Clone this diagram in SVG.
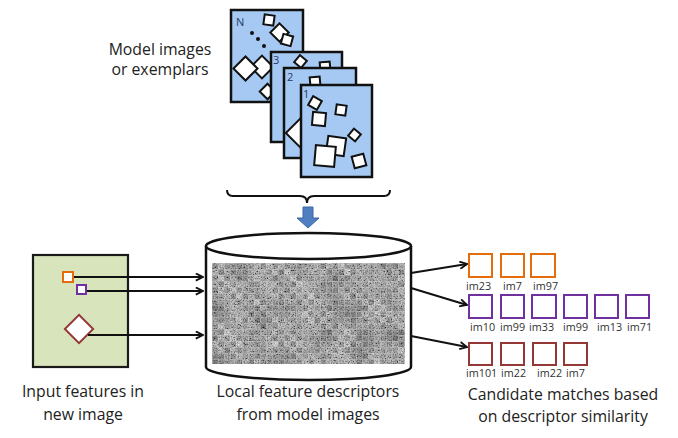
<svg xmlns="http://www.w3.org/2000/svg" width="678" height="438" viewBox="0 0 678 438">
<style>
.card{fill:#a6c9f3;stroke:#111;stroke-width:2.5}
.sq{fill:#fff;stroke:#111;stroke-width:2}
.cap{font-family:"Open Sans","Noto Sans",sans-serif;font-size:15.8px;fill:#222;text-anchor:middle}
.num{font-family:"Open Sans","Noto Sans",sans-serif;font-size:11px;fill:#1f3a6a}
.lab{font-family:"Open Sans","Noto Sans",sans-serif;font-size:10.8px;fill:#333}
.ln{stroke:#111;stroke-width:2;fill:none}
.or{fill:#fff;stroke:#e46c0a;stroke-width:2}
.pu{fill:#fff;stroke:#7030a0;stroke-width:2}
.br{fill:#fff;stroke:#953735;stroke-width:2}
</style>
<defs>
<marker id="ah" viewBox="0 0 10 10" refX="9" refY="5" markerWidth="9" markerHeight="9" markerUnits="userSpaceOnUse" orient="auto">
<path d="M1,1 L9,5 L1,9" fill="none" stroke="#111" stroke-width="2"/>
</marker>
<filter id="tex" x="0" y="0" width="100%" height="100%">
<feTurbulence type="fractalNoise" baseFrequency="0.7" numOctaves="2" seed="7" result="n"/>
<feColorMatrix in="n" type="matrix" values="2 0 0 0 -0.5  2 0 0 0 -0.5  2 0 0 0 -0.5  0 0 0 0 1" result="g"/>
<feComposite in="g" in2="SourceGraphic" operator="in"/>
</filter>
<filter id="blk" x="0" y="0" width="100%" height="100%">
<feTurbulence type="fractalNoise" baseFrequency="0.04" numOctaves="1" seed="2" result="n"/>
<feColorMatrix in="n" type="matrix" values="0 0 0 0 0  0 0 0 0 0  0 0 0 0 0  1.8 0 0 0 -0.8" result="g"/>
<feComposite in="g" in2="SourceGraphic" operator="in"/>
</filter>
<pattern id="pa" x="212" y="263" width="30" height="30" patternUnits="userSpaceOnUse">
<rect x="0" y="0" width="6" height="6" fill="#7a7a7a"/><rect x="6" y="0" width="6" height="6" fill="#a8a8a8"/><rect x="12" y="0" width="6" height="6" fill="#8c8c8c"/><rect x="18" y="0" width="6" height="6" fill="#5e5e5e"/><rect x="24" y="0" width="6" height="6" fill="#9c9c9c"/>
<rect x="0" y="6" width="6" height="6" fill="#969696"/><rect x="6" y="6" width="6" height="6" fill="#6a6a6a"/><rect x="12" y="6" width="6" height="6" fill="#b4b4b4"/><rect x="18" y="6" width="6" height="6" fill="#848484"/><rect x="24" y="6" width="6" height="6" fill="#727272"/>
<rect x="0" y="12" width="6" height="6" fill="#5a5a5a"/><rect x="6" y="12" width="6" height="6" fill="#8e8e8e"/><rect x="12" y="12" width="6" height="6" fill="#787878"/><rect x="18" y="12" width="6" height="6" fill="#a0a0a0"/><rect x="24" y="12" width="6" height="6" fill="#666"/>
<rect x="0" y="18" width="6" height="6" fill="#a2a2a2"/><rect x="6" y="18" width="6" height="6" fill="#707070"/><rect x="12" y="18" width="6" height="6" fill="#929292"/><rect x="18" y="18" width="6" height="6" fill="#6c6c6c"/><rect x="24" y="18" width="6" height="6" fill="#b0b0b0"/>
<rect x="0" y="24" width="6" height="6" fill="#808080"/><rect x="6" y="24" width="6" height="6" fill="#9a9a9a"/><rect x="12" y="24" width="6" height="6" fill="#626262"/><rect x="18" y="24" width="6" height="6" fill="#8a8a8a"/><rect x="24" y="24" width="6" height="6" fill="#767676"/>
</pattern>
<pattern id="pb" x="212" y="263" width="36" height="24" patternUnits="userSpaceOnUse">
<rect x="0" y="0" width="6" height="6" fill="#404040"/><rect x="6" y="0" width="6" height="6" fill="#c0c0c0"/><rect x="12" y="0" width="6" height="6" fill="#808080"/><rect x="18" y="0" width="6" height="6" fill="#e0e0e0"/><rect x="24" y="0" width="6" height="6" fill="#606060"/><rect x="30" y="0" width="6" height="6" fill="#a0a0a0"/>
<rect x="0" y="6" width="6" height="6" fill="#d0d0d0"/><rect x="6" y="6" width="6" height="6" fill="#505050"/><rect x="12" y="6" width="6" height="6" fill="#b0b0b0"/><rect x="18" y="6" width="6" height="6" fill="#707070"/><rect x="24" y="6" width="6" height="6" fill="#f0f0f0"/><rect x="30" y="6" width="6" height="6" fill="#303030"/>
<rect x="0" y="12" width="6" height="6" fill="#909090"/><rect x="6" y="12" width="6" height="6" fill="#e8e8e8"/><rect x="12" y="12" width="6" height="6" fill="#484848"/><rect x="18" y="12" width="6" height="6" fill="#c8c8c8"/><rect x="24" y="12" width="6" height="6" fill="#585858"/><rect x="30" y="12" width="6" height="6" fill="#888"/>
<rect x="0" y="18" width="6" height="6" fill="#686868"/><rect x="6" y="18" width="6" height="6" fill="#383838"/><rect x="12" y="18" width="6" height="6" fill="#d8d8d8"/><rect x="18" y="18" width="6" height="6" fill="#989898"/><rect x="24" y="18" width="6" height="6" fill="#b8b8b8"/><rect x="30" y="18" width="6" height="6" fill="#787878"/>
</pattern>
<pattern id="grid" x="212" y="263" width="6" height="6" patternUnits="userSpaceOnUse">
<path d="M0,0.5 H6 M0.5,0 V6" stroke="#cfcfcf" stroke-width="0.8" opacity="0.45"/>
</pattern>
</defs>

<g id="model-label">
<text class="cap" x="160" y="55">Model images</text>
<text class="cap" x="160" y="75">or exemplars</text>
</g>

<g id="card-N">
<rect class="card" x="231" y="10" width="72" height="92"/>
<text class="num" x="236" y="26">N</text>
<rect class="sq" x="264" y="15" width="10" height="10" transform="rotate(8 269 20)"/>
<rect class="sq" x="273" y="26" width="13" height="13" transform="rotate(45 279.5 32.5)"/>
<rect class="sq" x="282" y="35" width="10" height="10" transform="rotate(15 287 40)"/>
<circle cx="252" cy="33" r="2" fill="#111"/>
<circle cx="258" cy="39" r="2" fill="#111"/>
<circle cx="264" cy="46" r="2" fill="#111"/>
<rect class="sq" x="254" y="59" width="16" height="16" transform="rotate(45 262 67)"/>
<rect class="sq" x="237" y="60" width="17" height="17" transform="rotate(45 245.5 68.5)"/>
<rect class="sq" x="262" y="86" width="11" height="11" transform="rotate(45 267.5 91.5)"/>
</g>

<g id="card-3">
<rect class="card" x="271" y="52" width="71" height="90"/>
<text class="num" x="273" y="64">3</text>
<rect class="sq" x="296" y="57" width="9" height="9" transform="rotate(40 300.5 61.5)"/>
<rect class="sq" x="320" y="62" width="10" height="9" transform="rotate(-5 325 66)"/>
</g>

<g id="card-2">
<rect class="card" x="284" y="68" width="72" height="90"/>
<text class="num" x="287" y="81">2</text>
<rect class="sq" x="310" y="77" width="10" height="9" transform="rotate(-5 315 81)"/>
<rect class="sq" x="290" y="123" width="20" height="20" transform="rotate(45 300 133)"/>
</g>

<g id="card-1">
<rect class="card" x="301" y="85" width="71" height="92"/>
<text class="num" x="303" y="98">1</text>
<rect class="sq" x="310" y="98" width="10" height="10" transform="rotate(30 315 103)"/>
<rect class="sq" x="336" y="105" width="10" height="10" transform="rotate(8 341 110)"/>
<rect class="sq" x="312.5" y="112.5" width="13" height="13" transform="rotate(5 319 119)"/>
<rect class="sq" x="327" y="137" width="18" height="18" transform="rotate(8 336 146)"/>
<rect class="sq" x="315" y="146" width="20" height="20" transform="rotate(5 325 156)"/>
<rect class="sq" x="350" y="130.5" width="9" height="9" transform="rotate(40 354.5 135)"/>
<rect class="sq" x="353" y="155" width="12" height="12" transform="rotate(-15 359 161)"/>
</g>

<g id="brace">
<path d="M227,190 Q227,196 233,196 L300,196 Q307,196 307,203 Q307,196 314,196 L384,196 Q390,196 390,190" fill="none" stroke="#111" stroke-width="2"/>
</g>

<g id="down-arrow">
<path d="M303,207 H313 V218 H319 L308,228 L297,218 H303 Z" fill="#4f7fc0" stroke="#3d69a8" stroke-width="1"/>
</g>

<g id="database">
<path d="M206,246 V367 A102.5,13 0 0 0 411,367 V246" fill="#fff" stroke="#111" stroke-width="2.5"/>
<ellipse cx="308.5" cy="246" rx="102.5" ry="13" fill="#fff" stroke="#111" stroke-width="2.5"/>
<rect x="212" y="263" width="193" height="101" fill="url(#pa)"/>
<rect x="212" y="263" width="193" height="101" fill="url(#pb)" opacity="0.4"/>
<rect x="212" y="263" width="193" height="101" fill="#888" filter="url(#tex)" opacity="0.5"/>
<rect x="212" y="263" width="193" height="101" fill="#000" filter="url(#blk)" opacity="0.35"/>
<rect x="212" y="263" width="193" height="101" fill="url(#grid)"/>
</g>

<g id="input-image">
<rect x="33" y="255" width="95" height="112" fill="#d8e4bc" stroke="#1a1a1a" stroke-width="2.2"/>
<rect class="or" x="63" y="272" width="10" height="10"/>
<rect class="pu" x="77" y="285" width="9" height="9"/>
<rect x="69" y="319" width="20" height="20" class="br" transform="rotate(45 79 329)"/>
</g>

<g id="connectors">
<line class="ln" x1="74" y1="277" x2="203" y2="277" marker-end="url(#ah)"/>
<line class="ln" x1="87" y1="291" x2="203" y2="291" marker-end="url(#ah)"/>
<line class="ln" x1="88" y1="335" x2="203" y2="335" marker-end="url(#ah)"/>
<line class="ln" x1="411" y1="273" x2="467" y2="264" marker-end="url(#ah)"/>
<line class="ln" x1="411" y1="288" x2="467" y2="305" marker-end="url(#ah)"/>
<line class="ln" x1="411" y1="336" x2="467" y2="347" marker-end="url(#ah)"/>
</g>

<g id="matches-1">
<rect class="or" x="469" y="254" width="23" height="23"/>
<rect class="or" x="501" y="254" width="23" height="23"/>
<rect class="or" x="531" y="254" width="24" height="23"/>
<text class="lab" x="466" y="290">im23</text>
<text class="lab" x="503" y="290">im7</text>
<text class="lab" x="533" y="290">im97</text>
</g>

<g id="matches-2">
<rect class="pu" x="469" y="295" width="23" height="23"/>
<rect class="pu" x="501" y="295" width="23" height="23"/>
<rect class="pu" x="532" y="295" width="24" height="23"/>
<rect class="pu" x="564" y="295" width="23" height="23"/>
<rect class="pu" x="595" y="295" width="23" height="23"/>
<rect class="pu" x="626" y="295" width="23" height="23"/>
<text class="lab" x="470" y="331">im10</text>
<text class="lab" x="500" y="331">im99</text>
<text class="lab" x="529" y="331">im33</text>
<text class="lab" x="563" y="331">im99</text>
<text class="lab" x="597" y="331">im13</text>
<text class="lab" x="627" y="331">im71</text>
</g>

<g id="matches-3">
<rect class="br" x="469" y="343" width="23" height="22"/>
<rect class="br" x="501" y="343" width="23" height="22"/>
<rect class="br" x="533" y="343" width="23" height="22"/>
<rect class="br" x="564" y="343" width="23" height="22"/>
<text class="lab" x="466" y="377">im101</text>
<text class="lab" x="501" y="377">im22</text>
<text class="lab" x="537" y="377">im22</text>
<text class="lab" x="566" y="377">im7</text>
</g>

<g id="captions">
<text class="cap" x="83" y="397">Input features in</text>
<text class="cap" x="83" y="420">new image</text>
<text class="cap" x="308" y="397">Local feature descriptors</text>
<text class="cap" x="308" y="420">from model images</text>
<text class="cap" x="563" y="400">Candidate matches based</text>
<text class="cap" x="563" y="422">on descriptor similarity</text>
</g>
</svg>
